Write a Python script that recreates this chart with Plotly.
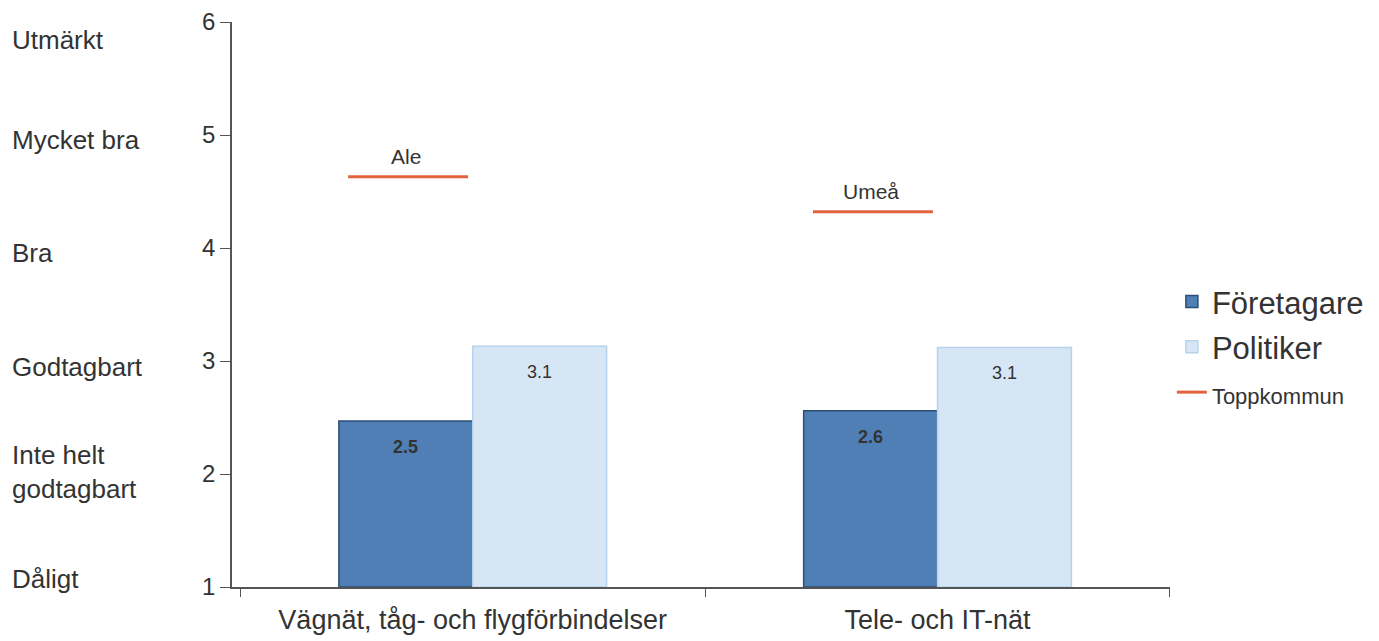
import plotly.graph_objects as go

# Data
kategorier = ["Vägnät, tåg- och flygförbindelser", "Tele- och IT-nät"]
foretagare = [2.47, 2.56]
foretagare_text = ["2.5", "2.6"]
politiker = [3.13, 3.12]
politiker_text = ["3.1", "3.1"]
toppkommun = [4.63, 4.32]
toppkommun_namn = ["Ale", "Umeå"]
y_ticks = [1, 2, 3, 4, 5, 6]
skala = ["Dåligt", "Inte helt<br>godtagbart", "Godtagbart", "Bra", "Mycket bra", "Utmärkt"]
skala_y = [1.07, 2.02, 2.95, 3.96, 4.96, 5.84]

pos = list(range(len(kategorier)))
bredd = 0.288

fig = go.Figure()
fig.add_trace(go.Bar(
    x=pos, y=[v - 1 for v in foretagare], base=1, name="Företagare",
    width=bredd, offset=-bredd, legendgroup="f",
    marker=dict(color="#4f7fb4", line=dict(color="#2c4f78", width=1.5)),
))
fig.add_trace(go.Bar(
    x=pos, y=[v - 1 for v in politiker], base=1, name="Politiker",
    width=bredd, offset=0, legendgroup="p",
    marker=dict(color="#d6e6f5", line=dict(color="#b7d3ec", width=1.5)),
))
# värdeetiketter
for i in pos:
    fig.add_annotation(x=i - bredd / 2, y=foretagare[i], text="<b>" + foretagare_text[i] + "</b>",
                       showarrow=False, yshift=-26, font=dict(size=18, color="#333333"))
    fig.add_annotation(x=i + bredd / 2, y=politiker[i], text=politiker_text[i],
                       showarrow=False, yshift=-26, font=dict(size=18, color="#333333"))

for i, (v, namn) in enumerate(zip(toppkommun, toppkommun_namn)):
    fig.add_trace(go.Scatter(
        x=[i - bredd + 0.02, i - 0.01], y=[v, v], mode="lines",
        line=dict(color="#e2623c", width=3),
        name="<span style='font-size:22px'>Toppkommun</span>",
        showlegend=(i == 0), legendgroup="topp",
    ))
    fig.add_annotation(x=i - bredd / 2, y=v, text=namn, showarrow=False,
                       yshift=20, font=dict(size=21, color="#333333"))

for txt, yv in zip(skala, skala_y):
    fig.add_annotation(xref="paper", x=0.0015, y=yv, text=txt, showarrow=False,
                       xanchor="left", align="left",
                       font=dict(size=26, color="#333333"))

fig.update_layout(
    width=1379, height=641,
    margin=dict(l=0, r=0, t=14, b=62),
    paper_bgcolor="white", plot_bgcolor="white",
    font=dict(family="Liberation Sans", color="#333333"),
    barmode="overlay",
    legend=dict(x=0.844, y=0.425, yanchor="middle", xanchor="left",
                font=dict(size=31, color="#333333"), itemwidth=30,
                tracegroupgap=2),
    showlegend=True,
)
fig.update_xaxes(
    domain=[0.1624, 0.8426], range=[-0.518, 1.5],
    tickvals=pos, ticktext=kategorier, ticks="", showgrid=False,
    tickfont=dict(size=27, color="#333333"), ticklabelstandoff=8,
    showline=True, linecolor="#555555", linewidth=1.5,
    minor=dict(tickvals=[-0.5, 0.5, 1.5], ticks="outside", ticklen=8,
               tickcolor="#555555", showgrid=False),
    automargin=False, zeroline=False,
)
fig.update_yaxes(
    range=[1, 6], tickvals=y_ticks, ticks="outside", ticklen=10,
    tickcolor="#555555", showgrid=False, zeroline=False,
    showline=True, linecolor="#555555", linewidth=1.5,
    tickfont=dict(size=24, color="#333333"), automargin=False,
)

fig.write_html("out.html")
